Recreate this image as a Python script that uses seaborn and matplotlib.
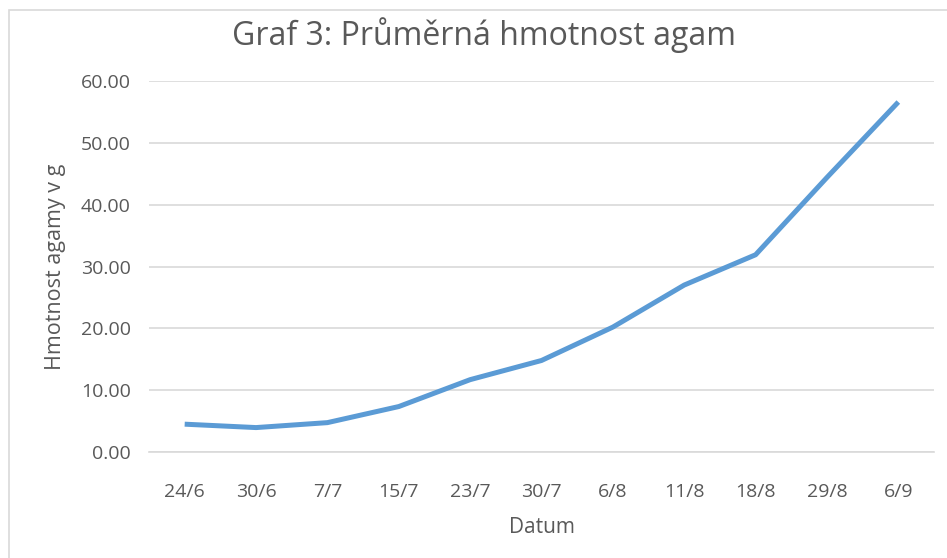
import matplotlib
matplotlib.use("Agg")
import matplotlib.pyplot as plt
import seaborn as sns
import pandas as pd
import numpy as np
from matplotlib.patches import Rectangle

dates = ["24/6", "30/6", "7/7", "15/7", "23/7", "30/7", "6/8", "11/8", "18/8", "29/8", "6/9"]
weights = [4.5, 3.95, 4.75, 7.35, 11.7, 14.8, 20.2, 27.0, 31.9, 44.4, 56.6]
yticks = [0, 10, 20, 30, 40, 50, 60]

sns.set_theme(style="white")
plt.rcParams['font.family'] = ['Open Sans', 'DejaVu Sans']
txt = "#595959"

fig = plt.figure(figsize=(9.47, 5.58), dpi=100)
ax = fig.add_axes([149/947, 1-452/558, (934-149)/947, (452-81)/558])

df = pd.DataFrame({"Datum": dates, "w": weights})
df["pos"] = np.arange(len(dates))
sns.lineplot(data=df, x="pos", y="w", ax=ax, color="#5b9bd5", linewidth=3.6,
             solid_capstyle="butt", sort=False)

ax.set_xlim(-0.5, len(dates) - 0.5)
ax.set_ylim(0, 60)
ax.set_yticks(yticks)
ax.set_yticklabels([f"{v:.2f}" for v in yticks], color=txt, fontsize=14)
ax.set_xticks(df["pos"])
ax.set_xticklabels(dates, color=txt, fontsize=14)
ax.set_xticks(np.arange(-0.5, len(dates), 1), minor=True)
ax.tick_params(axis="x", which="major", length=0, pad=22)
ax.tick_params(axis="x", which="minor", length=7, width=1.2, color="#d9d9d9", direction="out")
ax.tick_params(axis="y", length=0, pad=13)
ax.yaxis.grid(True, color="#d9d9d9", linewidth=1.2)
ax.set_axisbelow(True)
for s in ["top", "right", "left"]:
    ax.spines[s].set_visible(False)
ax.spines["bottom"].set_color("#d9d9d9")
ax.spines["bottom"].set_linewidth(1.2)

ax.set_xlabel("Datum", color=txt, fontsize=15)
ax.set_ylabel("Hmotnost agamy v g", color=txt, fontsize=15.5)
ax.xaxis.set_label_coords(0.5, -0.176)
ax.yaxis.set_label_coords(-0.106, 0.5)

fig.text(484/947, 1-35/558, "Graf 3: Průměrná hmotnost agam", ha="center", va="center",
         color=txt, fontsize=23)

fig.patches.append(Rectangle((9/947, -0.1), 1, 1.1-10/558, transform=fig.transFigure,
                             fill=False, edgecolor="#d9d9d9", linewidth=1.2))

fig.savefig("out.png", dpi=100)
